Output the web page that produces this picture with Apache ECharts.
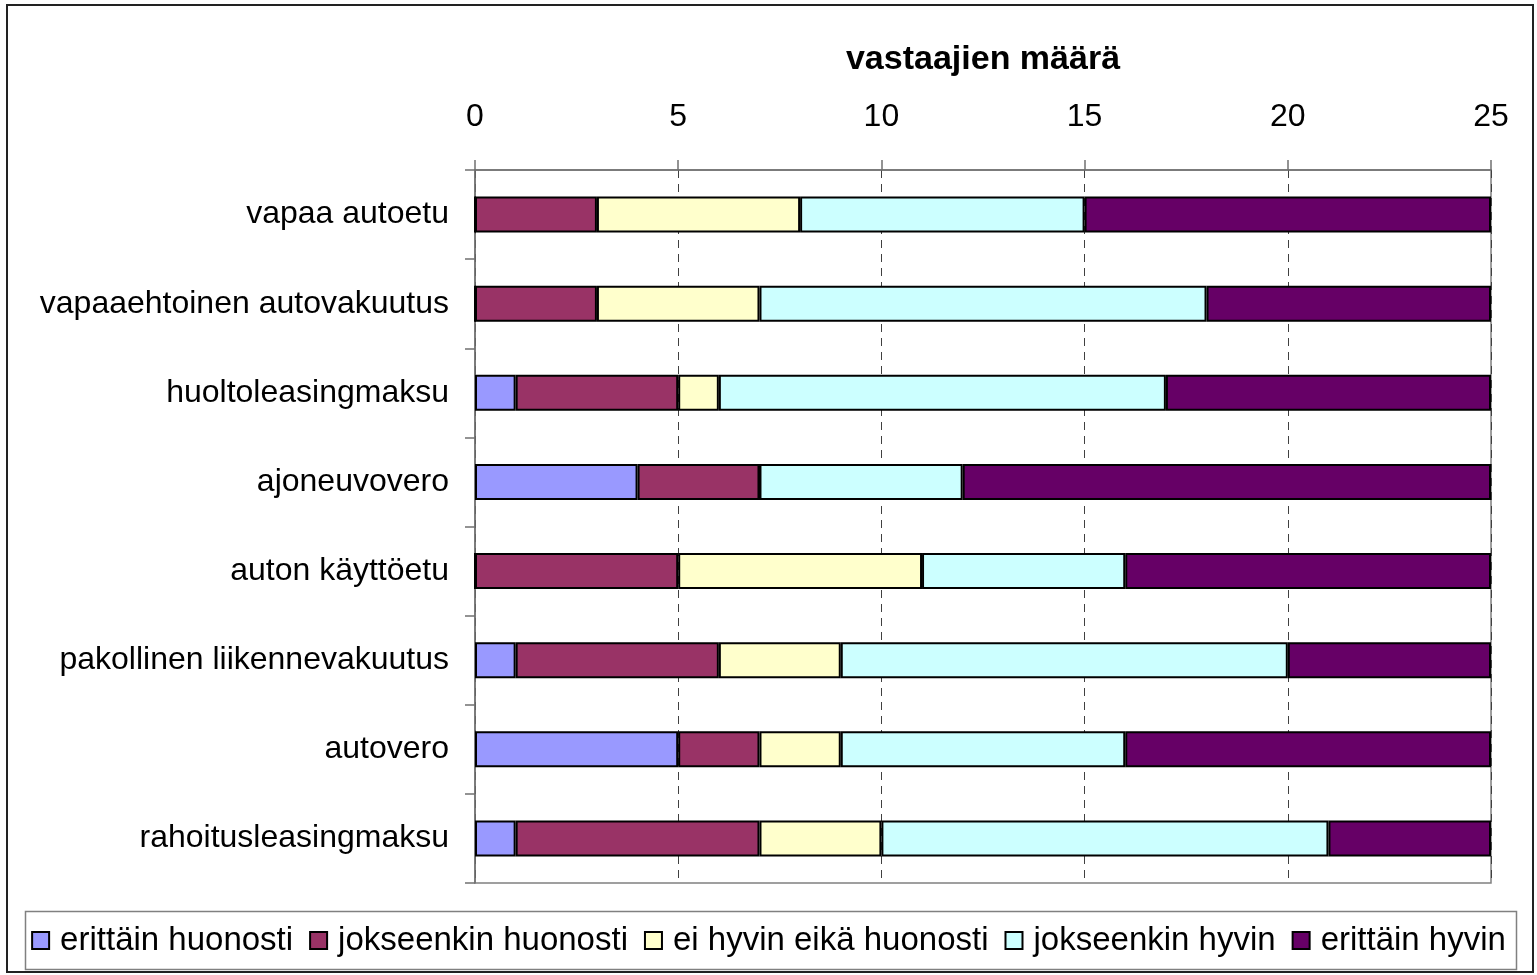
<!DOCTYPE html>
<html>
<head>
<meta charset="utf-8">
<script src="https://cdn.jsdelivr.net/npm/echarts@6/dist/echarts.min.js"></script>
<style>
html,body{margin:0;padding:0;background:#fff;}
#c{width:1537px;height:975px;}
</style>
</head>
<body>
<div id="c"></div>
<script>
const categories = ['vapaa autoetu','vapaaehtoinen autovakuutus','huoltoleasingmaksu','ajoneuvovero','auton käyttöetu','pakollinen liikennevakuutus','autovero','rahoitusleasingmaksu'];
const seriesNames = ['erittäin huonosti','jokseenkin huonosti','ei hyvin eikä huonosti','jokseenkin hyvin','erittäin hyvin'];
const erittainHuonosti   = [0, 0, 1, 4, 0, 1, 5, 1];
const jokseenkinHuonosti = [3, 3, 4, 3, 5, 5, 2, 6];
const eiHyvinEikaHuonosti= [5, 4, 1, 0, 6, 3, 2, 3];
const jokseenkinHyvin    = [7, 11, 11, 5, 5, 11, 7, 11];
const erittainHyvin      = [10, 7, 8, 13, 9, 5, 9, 4];
const axisTitle = 'vastaajien määrä';
const colors = ['#9999FF','#993366','#FFFFCC','#CCFFFF','#660066'];
const allData = [erittainHuonosti, jokseenkinHuonosti, eiHyvinEikaHuonosti, jokseenkinHyvin, erittainHyvin];

const FONT = '"Liberation Sans", Arial, sans-serif';
const chart = echarts.init(document.getElementById('c'), null, {renderer:'canvas'});
chart.setOption({
  backgroundColor:'#fff',
  animation:false,
  textStyle:{fontFamily:FONT},
  graphic:[
    {type:'rect', shape:{x:7,y:5,width:1526,height:967}, style:{fill:'none',stroke:'#222',lineWidth:2}, z:-1},
    {type:'rect', shape:{x:25.5,y:911.5,width:1491,height:58}, style:{fill:'#fff',stroke:'#808080',lineWidth:1.5}, z:-1}
  ],
  grid:{left:475, right:46, top:170, bottom:92, show:true, borderColor:'#808080', borderWidth:1.5, backgroundColor:'transparent'},
  xAxis:{
    type:'value', position:'top', min:0, max:25, interval:5,
    name:axisTitle, nameLocation:'middle', nameGap:93,
    nameTextStyle:{fontSize:34, fontWeight:'bold', color:'#000', fontFamily:FONT},
    axisLine:{show:true, lineStyle:{color:'#707070', width:1.5}},
    axisTick:{show:true, length:10, lineStyle:{color:'#707070', width:1.5}},
    axisLabel:{fontSize:32, color:'#000', margin:37, fontFamily:FONT},
    splitLine:{show:true, lineStyle:{color:'#404040', width:1, type:[8,6]}}
  },
  yAxis:{
    type:'category', data:categories, inverse:true,
    axisLine:{show:true, lineStyle:{color:'#707070', width:1.5}},
    axisTick:{show:true, length:10, lineStyle:{color:'#707070', width:1.5}},
    axisLabel:{fontSize:32, color:'#000', margin:26, fontFamily:FONT},
    splitLine:{show:false}
  },
  legend:{
    bottom:13, left:'center', itemWidth:17, itemHeight:17, itemGap:16,
    icon:'rect',
    textStyle:{fontSize:33, color:'#000', fontFamily:FONT, padding:[0,0,0,6]},
    itemStyle:{borderColor:'#000', borderWidth:2},
    data:seriesNames
  },
  series: seriesNames.map((n,i)=>({
    name:n, type:'bar', stack:'total', barWidth:36,
    data: allData[i],
    itemStyle:{color:colors[i], borderColor:'#000', borderWidth:2},
    emphasis:{disabled:true}
  }))
});
</script>
</body>
</html>
